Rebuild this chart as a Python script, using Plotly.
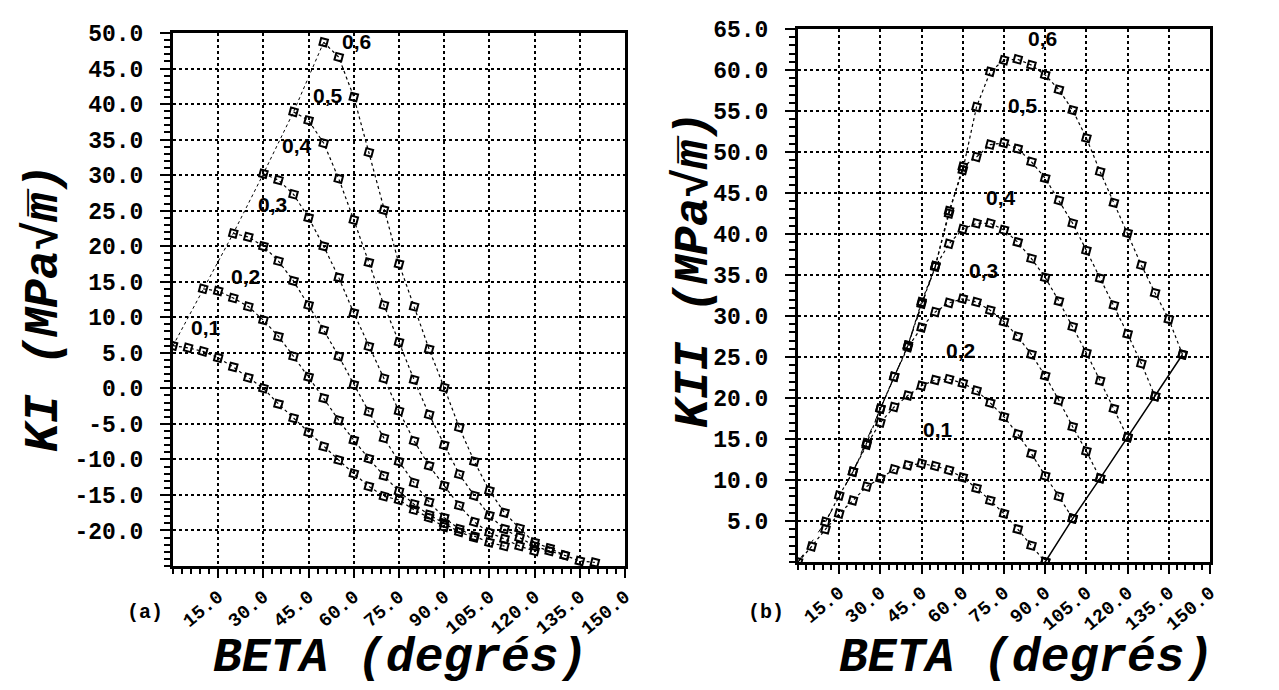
import plotly.graph_objects as go

# ---------------- data ----------------
AW_LABELS = ["0,1", "0,2", "0,3", "0,4", "0,5", "0,6"]

# beta (degrees) for each a/w curve
BETA_01 = [0, 5, 10, 15, 20, 25, 30, 35, 40, 45, 50, 55, 60, 65, 70, 75, 80, 85, 90]
BETA_02 = [10, 15, 20, 25, 30, 35, 40, 45, 50, 55, 60, 65, 70, 75, 80, 85, 90, 95, 100]
BETA_03 = [20, 25, 30, 35, 40, 45, 50, 55, 60, 65, 70, 75, 80, 85, 90, 95, 100, 105, 110]
BETA_04 = [30, 35, 40, 45, 50, 55, 60, 65, 70, 75, 80, 85, 90, 95, 100, 105, 110, 115, 120]
BETA_05 = [40, 45, 50, 55, 60, 65, 70, 75, 80, 85, 90, 95, 100, 105, 110, 115, 120, 125, 130]
BETA_06 = [50, 55, 60, 65, 70, 75, 80, 85, 90, 95, 100, 105, 110, 115, 120, 125, 130, 135, 140]

# (a) KI (MPa sqrt m)
KI_01 = [6.0, 5.7, 5.2, 4.3, 3.0, 1.5, 0.0, -2.2, -4.2, -6.2, -8.2, -10.1, -12.0, -13.8, -15.2, -15.7, -17.1, -18.2, -19.5]
KI_02 = [14.0, 13.7, 12.7, 11.5, 9.6, 7.3, 4.5, 1.6, -1.4, -4.5, -7.3, -9.9, -12.3, -14.5, -16.3, -17.8, -19.0, -20.2, -21.0]
KI_03 = [21.8, 21.3, 20.0, 17.9, 15.1, 11.7, 8.2, 4.5, 0.5, -3.3, -7.0, -10.3, -13.3, -16.0, -18.2, -19.8, -20.8, -21.7, -22.2]
KI_04 = [30.2, 29.3, 27.3, 24.0, 20.0, 15.6, 10.6, 5.9, 1.4, -3.2, -7.4, -10.9, -13.7, -16.5, -18.8, -20.3, -21.2, -22.2, -22.9]
KI_05 = [38.9, 37.7, 34.5, 29.5, 23.7, 17.7, 11.7, 6.5, 1.2, -3.7, -8.0, -12.1, -15.1, -17.9, -19.8, -21.0, -22.2, -22.9, -23.5]
KI_06 = [48.7, 46.6, 41.0, 33.2, 25.1, 17.5, 11.5, 5.5, 0.1, -5.5, -10.3, -14.4, -17.5, -19.7, -21.7, -22.5, -23.5, -24.3, -24.5]

# (b) KII (MPa sqrt m)
KII_01 = [0.0, 1.9, 4.0, 5.9, 7.5, 9.2, 10.2, 11.3, 11.8, 12.0, 11.7, 11.2, 10.3, 9.0, 7.5, 5.9, 4.0, 2.0, 0.0]
KII_02 = [4.9, 8.1, 11.0, 14.3, 17.0, 18.9, 20.3, 21.5, 22.2, 22.3, 21.8, 20.9, 19.4, 17.7, 15.6, 13.2, 10.5, 8.0, 5.3]
KII_03 = [11.0, 14.5, 18.7, 22.6, 26.2, 28.6, 30.5, 31.6, 32.1, 31.7, 30.7, 29.3, 27.5, 25.3, 22.7, 19.7, 16.5, 13.5, 10.2]
KII_04 = [18.7, 22.6, 26.4, 31.5, 36.0, 38.8, 40.6, 41.3, 41.3, 40.5, 39.0, 37.0, 34.7, 31.8, 28.7, 25.5, 22.1, 18.7, 15.2]
KII_05 = [26.4, 31.7, 36.1, 42.5, 48.2, 49.4, 50.9, 51.1, 50.4, 48.8, 46.8, 44.1, 41.3, 38.0, 34.6, 31.3, 27.8, 24.2, 20.2]
KII_06 = [36.1, 42.8, 47.8, 55.5, 59.8, 61.2, 61.3, 60.6, 59.4, 57.6, 55.1, 51.7, 47.6, 43.8, 40.1, 36.2, 32.8, 29.6, 25.3]

# curve label positions (beta, value)
LAB_A_X = [11, 24, 33, 41, 51.5, 61]
LAB_A_Y = [8.5, 15.8, 25.9, 34.2, 41.2, 48.8]
LAB_B_X = [51, 59, 67.5, 74, 82, 89]
LAB_B_Y = [16.1, 25.8, 35.6, 44.5, 55.7, 63.9]

BETA_ALL = [BETA_01, BETA_02, BETA_03, BETA_04, BETA_05, BETA_06]
KI_ALL = [KI_01, KI_02, KI_03, KI_04, KI_05, KI_06]
KII_ALL = [KII_01, KII_02, KII_03, KII_04, KII_05, KII_06]

X_TICKS = [15, 30, 45, 60, 75, 90, 105, 120, 135, 150]
KI_TICKS = [-20, -15, -10, -5, 0, 5, 10, 15, 20, 25, 30, 35, 40, 45, 50]
KII_TICKS = [5, 10, 15, 20, 25, 30, 35, 40, 45, 50, 55, 60, 65]

# ---------------- figure ----------------
W, H = 1279, 690


def PX(p):
    return p / W


def PY(p):
    return 1 - p / H


fig = go.Figure()

mk = dict(symbol="square-open", size=7, color="black", angle=15, line=dict(width=2, color="black"))
ln = dict(color="black", width=1.2, dash="dot")

for b, k in zip(BETA_ALL, KI_ALL):
    fig.add_trace(go.Scatter(x=b, y=k, mode="lines+markers", line=ln, marker=mk,
                             xaxis="x", yaxis="y", showlegend=False))
for b, k in zip(BETA_ALL, KII_ALL):
    fig.add_trace(go.Scatter(x=b, y=k, mode="lines+markers", line=ln, marker=mk,
                             xaxis="x2", yaxis="y2", showlegend=False))

# envelope through the first points (a)
fig.add_trace(go.Scatter(x=[b[0] for b in BETA_ALL], y=[k[0] for k in KI_ALL], mode="lines",
                         line=dict(color="black", width=1, dash="dot"),
                         xaxis="x", yaxis="y", showlegend=False))
# envelope through the first points (b)
fig.add_trace(go.Scatter(x=[b[0] for b in BETA_ALL], y=[k[0] for k in KII_ALL], mode="lines",
                         line=dict(color="black", width=1, dash="dash"),
                         xaxis="x2", yaxis="y2", showlegend=False))
# solid line through the last points (b)
fig.add_trace(go.Scatter(x=[b[-1] for b in BETA_ALL], y=[k[-1] for k in KII_ALL], mode="lines+markers",
                         line=dict(color="black", width=1.5), marker=mk,
                         xaxis="x2", yaxis="y2", showlegend=False))

tickfont = dict(family="Liberation Mono", size=23, color="black", weight="bold")
xtickfont = dict(family="Liberation Mono", size=19, color="black", weight="bold")


def xax(domain):
    return dict(domain=domain, range=[0, 150], tickmode="array", tickvals=X_TICKS,
                ticktext=[f"{v:.1f}" for v in X_TICKS], tickangle=-40, tickfont=xtickfont,
                showline=True, mirror=True, linecolor="black", linewidth=3,
                ticks="outside", ticklen=9, tickwidth=2, tickcolor="black",
                minor=dict(ticks="outside", ticklen=5, dtick=3, tickcolor="black", tickwidth=1.5, showgrid=False),
                showgrid=True, gridcolor="black", griddash="dot", gridwidth=1.5,
                zeroline=False, automargin=False, fixedrange=True)


def yax(domain, rng, tv, anchor):
    return dict(domain=domain, range=rng, tickmode="array", tickvals=tv,
                ticktext=[f"{v:.1f}" for v in tv], tickfont=tickfont, anchor=anchor,
                showline=True, mirror=True, linecolor="black", linewidth=3,
                ticks="outside", ticklen=10, tickwidth=2, tickcolor="black",
                ticklabelstandoff=12,
                minor=dict(ticks="outside", ticklen=6, dtick=1, tickcolor="black", tickwidth=1.5, showgrid=False),
                showgrid=True, gridcolor="black", griddash="dot", gridwidth=1.5,
                zeroline=False, automargin=False, fixedrange=True)


fig.update_layout(
    width=W, height=H,
    margin=dict(l=0, r=0, t=0, b=0),
    paper_bgcolor="white", plot_bgcolor="white",
    xaxis=dict(xax([PX(165), PX(617)]), anchor="y"),
    yaxis=yax([PY(558), PY(25)], [-25, 50], KI_TICKS, "x"),
    xaxis2=dict(xax([PX(790), PX(1202)]), anchor="y2"),
    yaxis2=yax([PY(554), PY(21)], [0, 65], KII_TICKS, "x2"),
)

anns = []
labfont = dict(family="Liberation Sans", size=21, color="black", weight="bold")
for t, x, y in zip(AW_LABELS, LAB_A_X, LAB_A_Y):
    anns.append(dict(text=t, x=x, y=y, xref="x", yref="y", showarrow=False, font=labfont))
for t, x, y in zip(AW_LABELS, LAB_B_X, LAB_B_Y):
    anns.append(dict(text=t, x=x, y=y, xref="x2", yref="y2", showarrow=False, font=labfont))


def pann(text, px, py, font, angle=0):
    return dict(text=text, x=PX(px), y=PY(py), xref="paper", yref="paper",
                xanchor="center", yanchor="middle", showarrow=False, textangle=angle, font=font)


titlefont = dict(family="Liberation Mono", size=48, color="black", weight="bold", style="italic")
anns.append(pann("KI (MPa\u221am\u0305)", 36, 300, titlefont, -90))
anns.append(pann("KII (MPa\u221am\u0305)", 686, 262, titlefont, -90))
anns.append(pann("BETA (degrés)", 392, 650, titlefont))
anns.append(pann("BETA (degrés)", 1018, 650, titlefont))
panfont = dict(family="Liberation Mono", size=20, color="black", weight="bold")
anns.append(pann("(a)", 137, 604, panfont))
anns.append(pann("(b)", 758, 604, panfont))

fig.update_layout(annotations=anns)

fig.write_html("out.html")
